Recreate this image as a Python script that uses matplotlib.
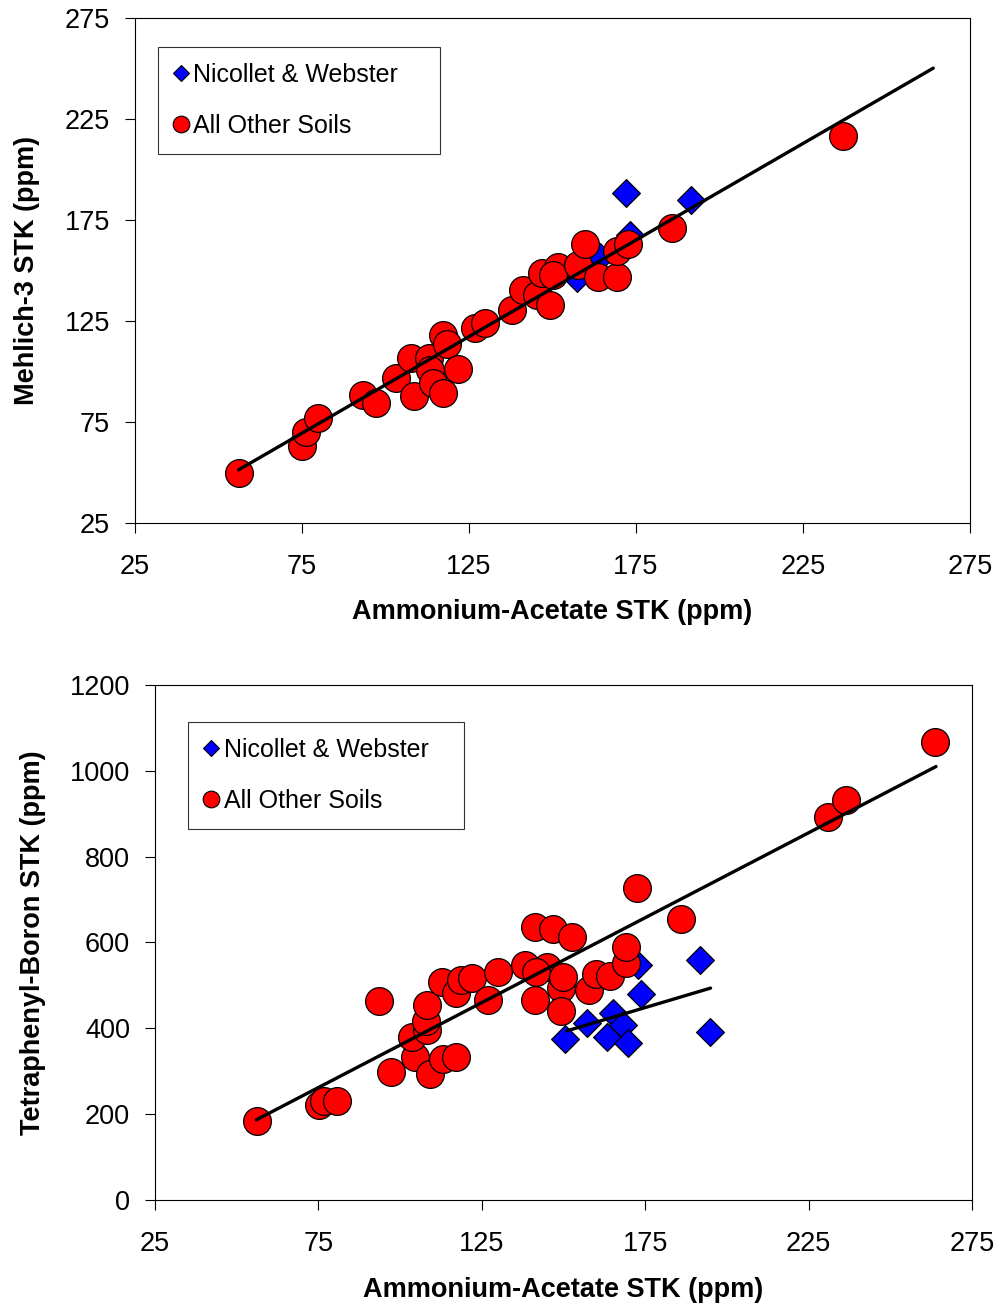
import matplotlib

matplotlib.use("Agg")
import matplotlib.pyplot as plt
import numpy as np
from matplotlib.lines import Line2D

plt.rcParams["font.family"] = ["Liberation Sans", "DejaVu Sans"]

# --- top panel: Mehlich-3 vs Ammonium-Acetate ---
nw_x_top = [157.2, 164.2, 171.9, 173.2, 191.4]
nw_y_top = [146.1, 156.8, 188.2, 167.6, 184.9]

other_x_top = [56.1, 75.1, 76.2, 79.9, 93.2, 97.1, 103.1, 107.6, 108.6, 112.9, 113.3,
               114.3, 117.1, 117.1, 118.5, 121.8, 126.8, 129.8, 137.8, 141.3, 145.3,
               146.8, 149.3, 151.7, 150.2, 157.7, 159.7, 163.7, 169.2, 169.2, 172.7,
               185.7, 237.0]
other_y_top = [49.9, 63.1, 70.0, 77.1, 88.4, 84.3, 96.6, 106.5, 88.0, 106.5, 100.7,
               94.2, 89.2, 118.1, 113.6, 101.2, 121.7, 123.9, 130.4, 140.3, 137.9,
               148.6, 132.9, 151.9, 147.8, 152.7, 163.1, 146.9, 146.9, 159.7, 163.1,
               170.9, 216.6]

# regression line: slope, intercept, x range
fit_top = (0.956, -2.2, 56.0, 264.0)

# --- bottom panel: Tetraphenyl-Boron vs Ammonium-Acetate ---
nw_x_bot = [150.5, 157.3, 163.2, 165.1, 168.1, 169.8, 172.9, 173.6, 191.8, 194.8]
nw_y_bot = [374.4, 411.7, 380.5, 434.9, 407.8, 365.0, 547.6, 480.0, 559.2, 392.2]

other_x_bot = [56.1, 75.3, 76.7, 80.6, 93.5, 97.1, 104.6, 109.0, 103.5, 108.3, 107.8,
               108.3, 113.2, 117.1, 112.7, 117.0, 118.6, 122.1, 127.0, 130.1, 138.2,
               145.0, 141.6, 141.3, 146.9, 152.5, 141.3, 149.2, 149.9, 149.2, 157.9,
               159.9, 164.2, 169.1, 169.1, 172.4, 185.9, 230.9, 236.4, 263.7]
other_y_bot = [184.8, 221.4, 231.4, 231.4, 464.4, 299.0, 333.9, 292.9, 379.1, 396.1, 417.8,
               454.4, 328.0, 332.6, 507.3, 481.6, 512.6, 516.6, 466.0, 532.0, 547.6,
               542.2, 532.0, 635.4, 631.5, 612.1, 464.8, 493.5, 520.4, 440.4, 489.3,
               526.6, 521.9, 551.5, 588.8, 726.3, 654.0, 892.4, 932.0, 1067.0]

fit_bot_other = (3.958, -34.9, 56.0, 264.0)
fit_bot_nw = (2.266, 51.8, 151.0, 195.0)

x_ticks = [25, 75, 125, 175, 225, 275]
y_ticks_top = [25, 75, 125, 175, 225, 275]
y_ticks_bot = [0, 200, 400, 600, 800, 1000, 1200]

RED = "#FF0000"
BLUE = "#0000FF"


def _fit_line(ax, fit):
    slope, icpt, x0, x1 = fit
    xs = np.array([x0, x1])
    ax.plot(xs, slope * xs + icpt, color="black", lw=2.4, zorder=5,
            solid_capstyle="round")


def _style(ax, ylim, yticks, ylabel, xlabel_pad, ylabel_pad):
    ax.set_xlim(25, 275)
    ax.set_ylim(*ylim)
    ax.set_xticks(x_ticks)
    ax.set_yticks(yticks)
    ax.tick_params(direction="out", length=7, width=0.8, labelsize=19.5)
    ax.tick_params(axis="x", pad=15)
    ax.tick_params(axis="y", pad=11)
    for s in ax.spines.values():
        s.set_linewidth(0.8)
    ax.set_xlabel("Ammonium-Acetate STK (ppm)", fontsize=19.5, fontweight="bold",
                  labelpad=xlabel_pad)
    ax.set_ylabel(ylabel, fontsize=19.5, fontweight="bold", labelpad=ylabel_pad)


def _legend(ax, x0, top, w):
    h = 0.05
    handles = [
        Line2D([], [], ls="none", marker="D", ms=8.5, mfc=BLUE, mec="black", mew=0.8),
        Line2D([], [], ls="none", marker="o", ms=12, mfc=RED, mec="black", mew=0.8),
    ]
    leg = ax.legend(handles, ["Nicollet & Webster", "All Other Soils"],
                    loc="upper left", bbox_to_anchor=(x0, top - h, w, h), mode="expand",
                    fontsize=18, frameon=True, fancybox=False, edgecolor="black",
                    handlelength=0.6, handletextpad=0.2, labelspacing=1.1,
                    borderpad=0.62, borderaxespad=0)
    leg.get_frame().set_linewidth(0.8)


fig = plt.figure(figsize=(10, 13.07), dpi=100)

ax1 = fig.add_axes([0.135, 0.5998, 0.835, 0.3864])
ax1.scatter(nw_x_top, nw_y_top, marker="D", s=200, c=BLUE, edgecolors="black",
            linewidths=0.9, zorder=3)
ax1.scatter(other_x_top, other_y_top, marker="o", s=400, c=RED, edgecolors="black",
            linewidths=0.9, zorder=4)
_fit_line(ax1, fit_top)
_style(ax1, (25, 275), y_ticks_top, "Mehlich-3 STK (ppm)", 14, 18)
_legend(ax1, 0.0275, 0.9426, 0.338)

ax2 = fig.add_axes([0.155, 0.0819, 0.817, 0.394])
ax2.scatter(nw_x_bot, nw_y_bot, marker="D", s=200, c=BLUE, edgecolors="black",
            linewidths=0.9, zorder=3)
ax2.scatter(other_x_bot, other_y_bot, marker="o", s=400, c=RED, edgecolors="black",
            linewidths=0.9, zorder=4)
_fit_line(ax2, fit_bot_other)
_fit_line(ax2, fit_bot_nw)
_style(ax2, (0, 1200), y_ticks_bot, "Tetraphenyl-Boron STK (ppm)", 15, 17)
_legend(ax2, 0.0404, 0.928, 0.338)

fig.savefig("out.png", dpi=100, facecolor="white")
